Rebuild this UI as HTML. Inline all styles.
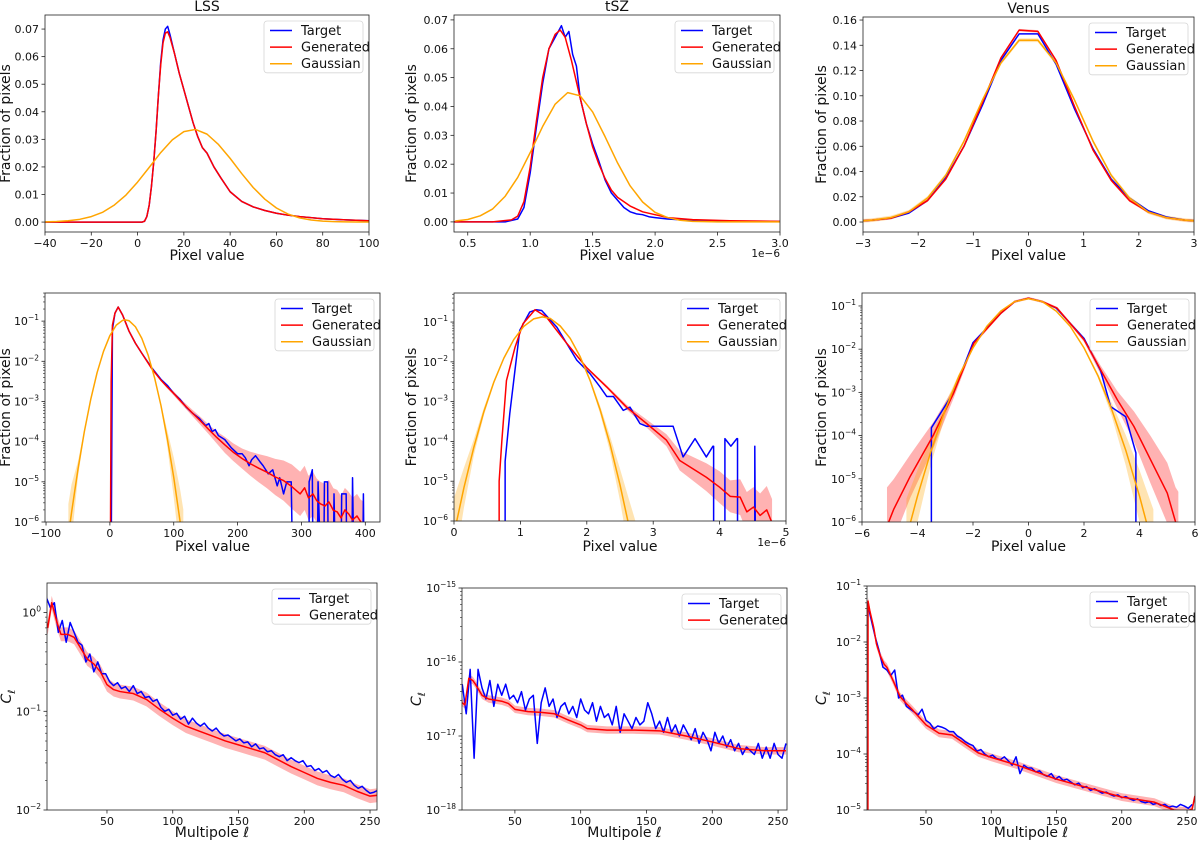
<!DOCTYPE html>
<html><head><meta charset="utf-8"><title>Pixel histograms and power spectra</title>
<style>
html,body{margin:0;padding:0;background:#fff;}
svg{display:block;font-family:"DejaVu Sans","Liberation Sans",sans-serif;}
</style></head>
<body>
<svg id="fig" width="1200" height="844" viewBox="0 0 1200 844" xmlns="http://www.w3.org/2000/svg"></svg>
<script>
// ---------- Data: LSS linear ----------
const lssLinX = [-40,-35,-30,-25,-20,-15,-10,-5,0,2,3,4,5,6,7,8,9,10,11,12,13,14,16,18,20,22,24,26,28,30,33,36,40,45,50,55,60,65,70,80,90,100];
const lssLinTarget = [0,0,0,0,0,0,0,0,0,0,0.0003,0.002,0.006,0.013,0.022,0.033,0.046,0.058,0.066,0.070,0.071,0.068,0.061,0.054,0.048,0.042,0.036,0.031,0.027,0.025,0.020,0.016,0.011,0.0075,0.0055,0.0042,0.0032,0.0025,0.002,0.0012,0.0008,0.0005];
const lssLinGen = [0,0,0,0,0,0,0,0,0,0,0.0003,0.002,0.006,0.013,0.022,0.033,0.046,0.057,0.065,0.0685,0.069,0.067,0.061,0.054,0.048,0.042,0.036,0.031,0.027,0.025,0.020,0.016,0.011,0.0075,0.0055,0.0042,0.0032,0.0025,0.002,0.0012,0.0008,0.0005];
const lssGaussX = [-40,-35,-30,-25,-20,-15,-10,-5,0,5,10,15,20,25,30,35,40,45,50,55,60,65,70,75,80,85,90,95,100];
const lssGaussY = [0.00008,0.0002,0.00047,0.001,0.00198,0.0036,0.0062,0.0098,0.0145,0.0198,0.0252,0.0298,0.0328,0.0336,0.0319,0.0281,0.0231,0.0176,0.0125,0.0083,0.0051,0.0029,0.00153,0.00075,0.00034,0.00015,0.00006,0.00003,0.00001];
// ---------- Data: tSZ linear (x in units of 1e-6) ----------
const tszLinTX = [0.39,0.8,0.9,0.95,1.0,1.05,1.1,1.15,1.2,1.25,1.28,1.31,1.34,1.37,1.4,1.45,1.5,1.55,1.6,1.65,1.7,1.75,1.8,1.85,1.9,1.95,2.0,2.1,2.3,2.6,3.0];
const tszLinT = [0,0,0.001,0.005,0.017,0.033,0.048,0.060,0.064,0.068,0.064,0.066,0.058,0.054,0.043,0.034,0.027,0.021,0.0145,0.010,0.0075,0.005,0.0035,0.0028,0.0025,0.0018,0.0015,0.001,0.0005,0.0002,0.0001];
const tszLinGX = [0.39,0.7,0.85,0.9,0.95,1.0,1.05,1.1,1.15,1.2,1.24,1.28,1.33,1.4,1.45,1.5,1.55,1.6,1.65,1.7,1.8,1.9,2.0,2.1,2.3,2.6,3.0];
const tszLinG = [0,0,0.0007,0.002,0.007,0.019,0.035,0.05,0.06,0.065,0.0665,0.064,0.056,0.043,0.034,0.026,0.02,0.015,0.011,0.0085,0.0055,0.0035,0.0025,0.0015,0.0008,0.0004,0.0002];
const tszGaussX = [0.4,0.5,0.6,0.7,0.8,0.9,1.0,1.1,1.2,1.3,1.4,1.5,1.6,1.7,1.8,1.9,2.0,2.1,2.2,2.3,2.5,3.0];
const tszGaussY = [0.0003,0.00084,0.0021,0.0045,0.0089,0.0154,0.024,0.0331,0.0408,0.0448,0.0437,0.0381,0.0295,0.0204,0.0125,0.0069,0.0033,0.0015,0.00056,0.0002,0.00001,0];
// ---------- Data: Venus linear ----------
const venLinX = [-3,-2.83,-2.5,-2.17,-1.83,-1.5,-1.17,-0.83,-0.5,-0.17,0.17,0.5,0.83,1.17,1.5,1.83,2.17,2.5,2.83,3];
const venLinT = [0.001,0.0015,0.003,0.007,0.017,0.035,0.06,0.093,0.128,0.149,0.149,0.125,0.09,0.058,0.034,0.019,0.009,0.004,0.0015,0.001];
const venLinG = [0.001,0.0015,0.003,0.008,0.017,0.034,0.06,0.095,0.13,0.152,0.151,0.128,0.092,0.057,0.033,0.017,0.008,0.0035,0.0015,0.001];
const venLinGauss = [0.001,0.0015,0.0035,0.008,0.019,0.037,0.064,0.097,0.126,0.144,0.144,0.126,0.097,0.064,0.037,0.019,0.008,0.0035,0.0015,0.001];
// ---------- Data: LSS log (log10 values) ----------
const lssLogTX = [2,4,8,13,20,30,40,50,65,80,90,100,110,120,130,140,150,155,160,165,170,180,190,200,207,212,218,222,228,235,240,248,255,262,266,272,277,284,286,312,312,317,318,325,326,330,335,336,341,342,350,351,353,362,363,370,371,379,380,382,396,397,398];
const lssLogT = [-7,-1.2,-0.8,-0.65,-0.85,-1.25,-1.55,-1.8,-2.15,-2.45,-2.6,-2.8,-2.95,-3.15,-3.3,-3.42,-3.6,-3.55,-3.75,-3.7,-3.85,-3.95,-4.15,-4.3,-4.3,-4.4,-4.6,-4.45,-4.35,-4.5,-4.6,-4.8,-4.7,-5.1,-4.9,-5.3,-5.0,-5.0,-7,-7,-5.0,-4.7,-7,-7,-5,-7,-7,-5,-5,-7,-7,-5.3,-7,-7,-5.3,-5.3,-7,-7,-4.9,-7,-7,-5.3,-7];
const lssLogGX = [0,1,2,4,8,13,20,30,40,50,65,80,90,100,115,130,141,155,167,180,193,207,220,233,246,259,272,285,298,305,311,318,324,330,337,343,350,356,362,368,374,380,387,393,398];
const lssLogG = [-7,-6,-2.5,-1.1,-0.8,-0.65,-0.85,-1.25,-1.55,-1.8,-2.17,-2.47,-2.64,-2.8,-3.06,-3.3,-3.47,-3.7,-3.89,-4.08,-4.26,-4.42,-4.55,-4.66,-4.76,-4.88,-4.97,-5.12,-5.3,-5.15,-5.4,-5.3,-5.47,-5.55,-5.6,-5.5,-5.71,-5.75,-5.9,-5.7,-5.8,-5.95,-5.85,-6.0,-6.05];
const lssLogGSpread = [0,0,0,0.02,0.02,0.02,0.02,0.02,0.02,0.02,0.03,0.03,0.04,0.05,0.06,0.08,0.1,0.12,0.15,0.2,0.22,0.25,0.3,0.35,0.4,0.45,0.5,0.55,0.55,0.55,0.55,0.55,0.55,0.55,0.55,0.55,0.55,0.55,0.55,0.55,0.55,0.55,0.55,0.55,0.55];
const lssLogGaussX = [-65,-60,-50,-40,-30,-20,-10,0,10,20,24,30,40,50,60,70,80,90,100,110,115];
const lssLogGauss = [-6.35,-5.76,-4.69,-3.75,-2.95,-2.28,-1.755,-1.36,-1.10,-0.98,-0.97,-0.99,-1.14,-1.43,-1.85,-2.41,-3.10,-3.93,-4.89,-5.99,-6.59];
const lssLogGaussSpread = [0.8,0.7,0.2,0.05,0.02,0.02,0.02,0.02,0.02,0.02,0.02,0.02,0.02,0.02,0.02,0.03,0.05,0.2,0.5,0.8,0.9];
// ---------- Data: tSZ log ----------
const tszLogTX = [0.77,0.77,0.84,0.99,1.14,1.24,1.32,1.55,1.85,2.05,2.2,2.3,2.4,2.55,2.65,2.8,2.9,3.3,3.45,3.63,3.8,3.9,3.91,3.91,4.08,4.08,4.17,4.26,4.27,4.27,4.53,4.53,4.54];
const tszLogT = [-7,-4.5,-3.3,-1.21,-0.75,-0.69,-0.71,-1.13,-1.96,-2.3,-2.63,-2.87,-2.87,-3.22,-3.14,-3.55,-3.62,-3.62,-4.39,-3.93,-4.39,-4.12,-4.12,-7,-7,-3.93,-4.12,-3.93,-3.93,-7,-7,-4.12,-7];
const tszLogGX = [0.68,0.68,0.72,0.79,0.92,1.04,1.22,1.39,1.7,2.0,2.3,2.6,2.9,3.2,3.4,3.6,3.8,4.0,4.16,4.31,4.41,4.51,4.61,4.71,4.79];
const tszLogG = [-7,-5,-4,-2.47,-1.63,-1.04,-0.69,-0.87,-1.54,-2.15,-2.63,-3.14,-3.55,-3.97,-4.48,-4.69,-4.9,-5.15,-5.38,-5.4,-5.77,-5.65,-5.86,-5.72,-6.05];
const tszLogGSpread = [0,0,0,0.02,0.02,0.02,0.02,0.02,0.02,0.03,0.04,0.06,0.1,0.15,0.25,0.3,0.35,0.4,0.4,0.45,0.5,0.5,0.55,0.6,0.6];
const tszLogGaussX = [0,0.15,0.3,0.45,0.6,0.75,0.9,1.05,1.2,1.33,1.45,1.6,1.75,1.9,2.05,2.2,2.35,2.5,2.65,2.75];
const tszLogGauss = [-6.32,-5.16,-4.14,-3.25,-2.51,-1.91,-1.44,-1.11,-0.92,-0.87,-0.91,-1.10,-1.41,-1.87,-2.47,-3.2,-4.07,-5.09,-6.24,-7.07];
const tszLogGaussSpread = [0.9,0.5,0.2,0.1,0.05,0.03,0.02,0.02,0.02,0.02,0.02,0.02,0.02,0.03,0.05,0.1,0.2,0.4,0.7,0.9];
// ---------- Data: Venus log ----------
const venLogTX = [-3.5,-3.5,-2.7,-2,-1,-0.5,0,0.5,1,2,2.2,2.6,2.96,3.5,3.87,3.87];
const venLogT = [-7,-3.82,-3.0,-1.85,-1.17,-0.9,-0.82,-0.9,-1.05,-1.75,-2.0,-2.5,-3.33,-3.56,-4.4,-7];
const venLogGX = [-5.1,-4.86,-4.26,-3.42,-2.7,-1.97,-1,-0.5,0,0.5,1.03,2,2.6,3.2,3.8,4.4,5,5.3,5.4];
const venLogG = [-6.1,-5.71,-4.94,-3.98,-3.02,-1.86,-1.17,-0.9,-0.82,-0.9,-1.05,-1.78,-2.48,-3.17,-3.79,-4.56,-5.33,-6,-6.2];
const venLogGSpread = [0.9,0.7,0.5,0.3,0.12,0.05,0.03,0.03,0.03,0.03,0.03,0.05,0.1,0.2,0.35,0.55,0.7,0.8,0.9];
const venLogGaussX = [-4.4,-4,-3.5,-3,-2.5,-2,-1.5,-1,-0.5,0,0.5,1,1.5,2,2.5,3,3.5,4,4.5];
const venLogGauss = [-6.36,-5.4,-4.33,-3.4,-2.61,-1.97,-1.47,-1.12,-0.9,-0.83,-0.9,-1.12,-1.47,-1.97,-2.61,-3.4,-4.33,-5.4,-6.61];
const venLogGaussSpread = [0.9,0.6,0.3,0.15,0.05,0.03,0.02,0.02,0.02,0.02,0.02,0.02,0.02,0.03,0.05,0.15,0.35,0.6,0.9];
// ---------- Data: power spectra (log10 C_ell) ----------
const lssClStart = 4, tszClStart = 10, venClStart = 5, clStep = 3;
const lssClT = [0.15,0.05,0.1,-0.2,-0.08,-0.3,-0.1,-0.2,-0.3,-0.33,-0.5,-0.42,-0.6,-0.5,-0.62,-0.62,-0.7,-0.74,-0.71,-0.77,-0.75,-0.8,-0.74,-0.82,-0.8,-0.86,-0.85,-0.9,-0.88,-0.96,-1.0,-0.98,-1.04,-1.02,-1.08,-1.05,-1.13,-1.07,-1.12,-1.15,-1.12,-1.17,-1.2,-1.17,-1.22,-1.25,-1.24,-1.27,-1.3,-1.28,-1.32,-1.31,-1.36,-1.33,-1.38,-1.37,-1.41,-1.4,-1.44,-1.46,-1.44,-1.5,-1.47,-1.5,-1.52,-1.5,-1.56,-1.55,-1.6,-1.58,-1.62,-1.6,-1.65,-1.67,-1.64,-1.69,-1.72,-1.7,-1.75,-1.78,-1.76,-1.8,-1.83,-1.82,-1.8];
const lssClGX = [4,5,8,12,15,20,25,30,35,40,45,50,55,60,70,80,90,100,110,120,130,140,150,160,170,180,190,200,210,220,230,240,250,256];
const lssClG = [-0.1,-0.15,0.1,-0.1,-0.22,-0.22,-0.25,-0.36,-0.47,-0.52,-0.6,-0.73,-0.78,-0.8,-0.82,-0.88,-0.98,-1.07,-1.15,-1.2,-1.25,-1.3,-1.34,-1.38,-1.42,-1.49,-1.56,-1.62,-1.68,-1.72,-1.75,-1.81,-1.86,-1.85];
const tszClT = [-16.3,-16.7,-16.1,-17.3,-16.1,-16.35,-16.5,-16.25,-16.6,-16.3,-16.45,-16.3,-16.5,-16.45,-16.55,-16.4,-16.65,-16.5,-16.45,-17.1,-16.55,-16.35,-16.6,-16.5,-16.75,-16.6,-16.55,-16.7,-16.6,-16.75,-16.5,-16.65,-16.7,-16.55,-16.8,-16.6,-16.75,-16.7,-16.85,-16.6,-16.95,-16.7,-16.8,-16.9,-16.75,-16.85,-16.8,-16.55,-16.7,-16.9,-16.8,-16.95,-16.75,-16.95,-16.85,-17.0,-16.85,-16.95,-17.05,-16.9,-17.1,-16.95,-17.05,-17.2,-16.95,-17.1,-17.0,-17.15,-17.05,-17.2,-17.1,-17.25,-17.15,-17.2,-17.25,-17.1,-17.3,-17.15,-17.3,-17.1,-17.25,-17.3,-17.1];
const tszClGX = [10,12,15,18,20,25,30,40,45,50,60,70,80,90,100,105,120,140,160,180,200,220,240,256];
const tszClG = [-16.55,-16.58,-16.22,-16.25,-16.3,-16.45,-16.5,-16.53,-16.56,-16.64,-16.67,-16.68,-16.7,-16.78,-16.85,-16.9,-16.92,-16.92,-16.93,-17.0,-17.08,-17.17,-17.2,-17.2];
const venClT = [-1.3,-1.6,-1.9,-2.15,-2.45,-2.5,-2.6,-2.5,-3.0,-2.95,-3.15,-3.2,-3.25,-3.3,-3.2,-3.4,-3.45,-3.55,-3.5,-3.52,-3.55,-3.6,-3.6,-3.68,-3.72,-3.78,-3.82,-3.85,-3.95,-3.92,-4.0,-4.05,-4.02,-4.08,-4.1,-4.05,-4.12,-4.2,-4.05,-4.35,-4.2,-4.25,-4.25,-4.32,-4.3,-4.37,-4.4,-4.35,-4.45,-4.4,-4.47,-4.45,-4.5,-4.55,-4.52,-4.6,-4.58,-4.65,-4.62,-4.66,-4.7,-4.68,-4.72,-4.75,-4.73,-4.78,-4.76,-4.8,-4.83,-4.8,-4.85,-4.87,-4.85,-4.9,-4.88,-4.92,-4.9,-4.95,-4.93,-4.95,-4.9,-4.93,-4.97,-4.9];
const venClGX = [5.5,5.6,7,10,12,15,18,20,25,30,35,40,50,60,70,80,90,100,120,150,175,200,225,240,250,254,256];
const venClG = [-5,-1.27,-1.45,-1.75,-2.03,-2.25,-2.4,-2.45,-2.7,-2.97,-3.1,-3.22,-3.48,-3.63,-3.66,-3.82,-3.98,-4.06,-4.2,-4.45,-4.61,-4.77,-4.86,-5.0,-5.02,-4.98,-4.75];
// ---------- Tick definitions ----------
const lssLinXTicks = [-40,-20,0,20,40,60,80,100];
const tszLinXTicks = [0.5,1.0,1.5,2.0,2.5,3.0];
const venLinXTicks = [-3,-2,-1,0,1,2,3];
const linYTicks07 = [0,0.01,0.02,0.03,0.04,0.05,0.06,0.07];
const venLinYTicks = [0,0.02,0.04,0.06,0.08,0.10,0.12,0.14,0.16];
const lssLogXTicks = [-100,0,100,200,300,400];
const tszLogXTicks = [0,1,2,3,4,5];
const venLogXTicks = [-6,-4,-2,0,2,4,6];
const histDecades = [-6,-5,-4,-3,-2,-1];
const clXTicks = [50,100,150,200,250];

// ---------- Rendering ----------
const NS = "http://www.w3.org/2000/svg";
const fig = document.getElementById('fig');
const BLUE = "#0000ff", RED = "#ff0000", ORANGE = "#ffa500";
function mk(tag, attrs, parent){
  const e = document.createElementNS(NS, tag);
  for (const k in attrs) e.setAttribute(k, attrs[k]);
  (parent || fig).appendChild(e);
  return e;
}
function zip(xs, ys){ const n = Math.min(xs.length, ys.length); const r=[]; for(let i=0;i<n;i++) r.push([xs[i],ys[i]]); return r; }
function minus(s){ return String(s).replace('-', '\u2212'); }
let clipId = 0;
function panel(c){
  const g = mk('g', {});
  
  
  const [x0,y0,x1,y1] = c.box;
  const sx = v => x0 + (v - c.xr[0]) / (c.xr[1] - c.xr[0]) * (x1 - x0);
  const sy = v => y1 - (v - c.yr[0]) / (c.yr[1] - c.yr[0]) * (y1 - y0);
  const id = 'clip' + (clipId++);
  const cp = mk('clipPath', {id: id}, g);
  mk('rect', {x:x0, y:y0, width:x1-x0, height:y1-y0}, cp);
  const plot = mk('g', {'clip-path': 'url(#' + id + ')'}, g);
  
  
  c.series.forEach(s => {
    if (!s.spread) return;
    const pts = zip(s.x, s.y);
    const sp = i => Array.isArray(s.spread) ? s.spread[i] : s.spread;
    const up = pts.map((p,i) => sx(p[0]).toFixed(2) + ',' + sy(Math.max(p[1], c.yr[0]-1) + sp(i)).toFixed(2));
    const lo = pts.map((p,i) => sx(p[0]).toFixed(2) + ',' + sy(Math.max(p[1], c.yr[0]-1) - sp(i)).toFixed(2)).reverse();
    const b = mk('polygon', {points: up.concat(lo).join(' '), fill: s.color, 'fill-opacity': 0.3, stroke: 'none'}, plot);
    
    
  });
  c.series.forEach(s => {
    const pts = zip(s.x, s.y).map(p => sx(p[0]).toFixed(2) + ',' + sy(Math.max(p[1], c.yr[0]-1)).toFixed(2));
    const l = mk('polyline', {points: pts.join(' '), fill:'none', stroke: s.color, 'stroke-width': 1.5, 'stroke-linejoin':'round'}, plot);
    
    
  });
  const fr = mk('rect', {x:x0, y:y0, width:x1-x0, height:y1-y0, fill:'none', stroke:'#222', 'stroke-width':0.8}, g);
  
  
  const xt = mk('g', {}, g);
  
  
  c.xticks.forEach(v => {
    const X = sx(v);
    mk('line', {x1:X, x2:X, y1:y1, y2:y1+3.5, stroke:'#222', 'stroke-width':0.8}, xt);
    const t = mk('text', {x:X, y:y1+15, 'font-size':11, 'text-anchor':'middle', fill:'#111'}, xt);
    t.textContent = c.xfmt ? c.xfmt(v) : minus(v);
  });
  const yt = mk('g', {}, g);
  
  
  if (c.ylog){
    for (let d = Math.floor(c.yr[0]); d <= Math.ceil(c.yr[1]); d++){
      for (let k = 2; k <= 9; k++){
        const v = d + Math.log10(k);
        if (v > c.yr[0] && v < c.yr[1]) mk('line', {x1:x0, x2:x0-2, y1:sy(v), y2:sy(v), stroke:'#222', 'stroke-width':0.6}, yt);
      }
    }
  }
  c.yticks.forEach(v => {
    const Y = sy(v);
    mk('line', {x1:x0, x2:x0-3.5, y1:Y, y2:Y, stroke:'#222', 'stroke-width':0.8}, yt);
    const t = mk('text', {x:x0-6, y:Y+4, 'font-size':11, 'text-anchor':'end', fill:'#111'}, yt);
    if (c.ylog){
      t.textContent = '10';
      const sup = mk('tspan', {dy:-5, 'font-size':7.5}, t);
      sup.textContent = minus(v);
    } else {
      t.textContent = v.toFixed(2);
    }
  });
  const xl = mk('text', {x:(x0+x1)/2, y:c.xlabelY, 'font-size':14, 'text-anchor':'middle', fill:'#111'}, g);
  
  
  xl.textContent = c.xlabel;
  const yl = mk('text', {x:0, y:0, 'font-size':14, 'text-anchor':'middle', fill:'#111', transform:'translate(' + c.ylabelX + ',' + ((y0+y1)/2) + ') rotate(-90)'}, g);
  
  
  if (c.ylabel === 'C'){
    const ci = mk('tspan', {'font-style':'italic'}, yl); ci.textContent = 'C';
    const sb = mk('tspan', {dy:4, 'font-size':10, 'font-style':'italic'}, yl); sb.textContent = 'ℓ';
  } else yl.textContent = c.ylabel;
  if (c.title){
    const tt = mk('text', {x:(x0+x1)/2, y:c.box[1]-4, 'font-size':14, 'text-anchor':'middle', fill:'#111'}, g);
    
    
    tt.textContent = c.title;
  }
  if (c.offset){
    const ot = mk('text', {x:x1, y:y1+25, 'font-size':10.5, 'text-anchor':'end', fill:'#111'}, g);
    
    
    ot.textContent = '1e\u22126';
  }
  const n = c.series.length;
  const lw = 99, lh = n * 16.6 + 2;
  const lx = x1 - 6 - lw, ly = y0 + 6;
  const lg = mk('g', {}, g);
  
  
  mk('rect', {x:lx, y:ly, width:lw, height:lh, rx:3, fill:'#fff', 'fill-opacity':0.8, stroke:'#d6d6d6', 'stroke-width':0.8}, lg);
  c.series.forEach((s,i) => {
    const e = mk('g', {}, lg);
    
    
    const yy = ly + 9.5 + i*16.6;
    mk('line', {x1:lx+6, x2:lx+28, y1:yy, y2:yy, stroke:s.color, 'stroke-width':1.5}, e);
    const t = mk('text', {x:lx+37, y:yy+4.5, 'font-size':13, fill:'#111'}, e);
    t.textContent = s.label;
  });
}
const tri = (tx,ty,gx,gy,gs,ux,uy,us) => [
  {key:'target', label:'Target', color:BLUE, x:tx, y:ty},
  {key:'generated', label:'Generated', color:RED, x:gx, y:gy, spread:gs},
  {key:'gaussian', label:'Gaussian', color:ORANGE, x:ux, y:uy, spread:us}
];
const ellOf = (start, arr) => arr.map((_,i) => start + clStep*i);

panel({name:'lss-histogram-linear', box:[45,15,369,232], xr:[-40,100], yr:[-0.0036,0.0751], xticks:lssLinXTicks, yticks:linYTicks07,
  xlabel:'Pixel value', xlabelY:260, ylabel:'Fraction of pixels', ylabelX:10, title:'LSS',
  series: tri(lssLinX,lssLinTarget,lssLinX,lssLinGen,null,lssGaussX,lssGaussY,null)});
panel({name:'tsz-histogram-linear', box:[454,15,780,232], xr:[0.39,3.0], yr:[-0.0035,0.0717], xticks:tszLinXTicks, yticks:linYTicks07,
  xfmt: v => v.toFixed(1), offset:true,
  xlabel:'Pixel value', xlabelY:260, ylabel:'Fraction of pixels', ylabelX:416, title:'tSZ',
  series: tri(tszLinTX,tszLinT,tszLinGX,tszLinG,null,tszGaussX,tszGaussY,null)});
panel({name:'venus-histogram-linear', box:[863,17,1194,232], xr:[-3,3], yr:[-0.0079,0.1624], xticks:venLinXTicks, yticks:venLinYTicks,
  xlabel:'Pixel value', xlabelY:260, ylabel:'Fraction of pixels', ylabelX:826, title:'Venus',
  series: tri(venLinX,venLinT,venLinX,venLinG,0.001,venLinX,venLinGauss,0.0015)});
panel({name:'lss-histogram-log', box:[45,293,380,522], xr:[-101.6,423], yr:[-6,-0.30], ylog:true, xticks:lssLogXTicks, yticks:histDecades,
  xlabel:'Pixel value', xlabelY:551, ylabel:'Fraction of pixels', ylabelX:10,
  series: tri(lssLogTX,lssLogT,lssLogGX,lssLogG,lssLogGSpread,lssLogGaussX,lssLogGauss,lssLogGaussSpread)});
panel({name:'tsz-histogram-log', box:[454,293,786,521], xr:[0,5], yr:[-6,-0.27], ylog:true, xticks:tszLogXTicks, yticks:histDecades, offset:true,
  xlabel:'Pixel value', xlabelY:551, ylabel:'Fraction of pixels', ylabelX:416,
  series: tri(tszLogTX,tszLogT,tszLogGX,tszLogG,tszLogGSpread,tszLogGaussX,tszLogGauss,tszLogGaussSpread)});
panel({name:'venus-histogram-log', box:[862,293,1195,522], xr:[-6,6], yr:[-6,-0.70], ylog:true, xticks:venLogXTicks, yticks:histDecades,
  xlabel:'Pixel value', xlabelY:551, ylabel:'Fraction of pixels', ylabelX:826,
  series: tri(venLogTX,venLogT,venLogGX,venLogG,venLogGSpread,venLogGaussX,venLogGauss,venLogGaussSpread)});
panel({name:'lss-power-spectrum', box:[47,583,377,810], xr:[4.4,255.3], yr:[-2,0.30], ylog:true, xticks:clXTicks, yticks:[-2,-1,0],
  xlabel:'Multipole ℓ', xlabelY:837, ylabel:'C', ylabelX:11,
  series:[{key:'target',label:'Target',color:BLUE,x:ellOf(lssClStart,lssClT),y:lssClT},
          {key:'generated',label:'Generated',color:RED,x:lssClGX,y:lssClG,spread:0.07}]});
panel({name:'tsz-power-spectrum', box:[462,588,787,810], xr:[9.8,256.8], yr:[-18,-15], ylog:true, xticks:clXTicks, yticks:[-18,-17,-16,-15],
  xlabel:'Multipole ℓ', xlabelY:837, ylabel:'C', ylabelX:421,
  series:[{key:'target',label:'Target',color:BLUE,x:ellOf(tszClStart,tszClT),y:tszClT},
          {key:'generated',label:'Generated',color:RED,x:tszClGX,y:tszClG,spread:0.05}]});
panel({name:'venus-power-spectrum', box:[867,586,1195,810], xr:[4.8,256.1], yr:[-5,-1], ylog:true, xticks:clXTicks, yticks:[-5,-4,-3,-2,-1],
  xlabel:'Multipole ℓ', xlabelY:837, ylabel:'C', ylabelX:826,
  series:[{key:'target',label:'Target',color:BLUE,x:ellOf(venClStart,venClT),y:venClT},
          {key:'generated',label:'Generated',color:RED,x:venClGX,y:venClG,spread:0.07}]});
</script>
</body></html>
